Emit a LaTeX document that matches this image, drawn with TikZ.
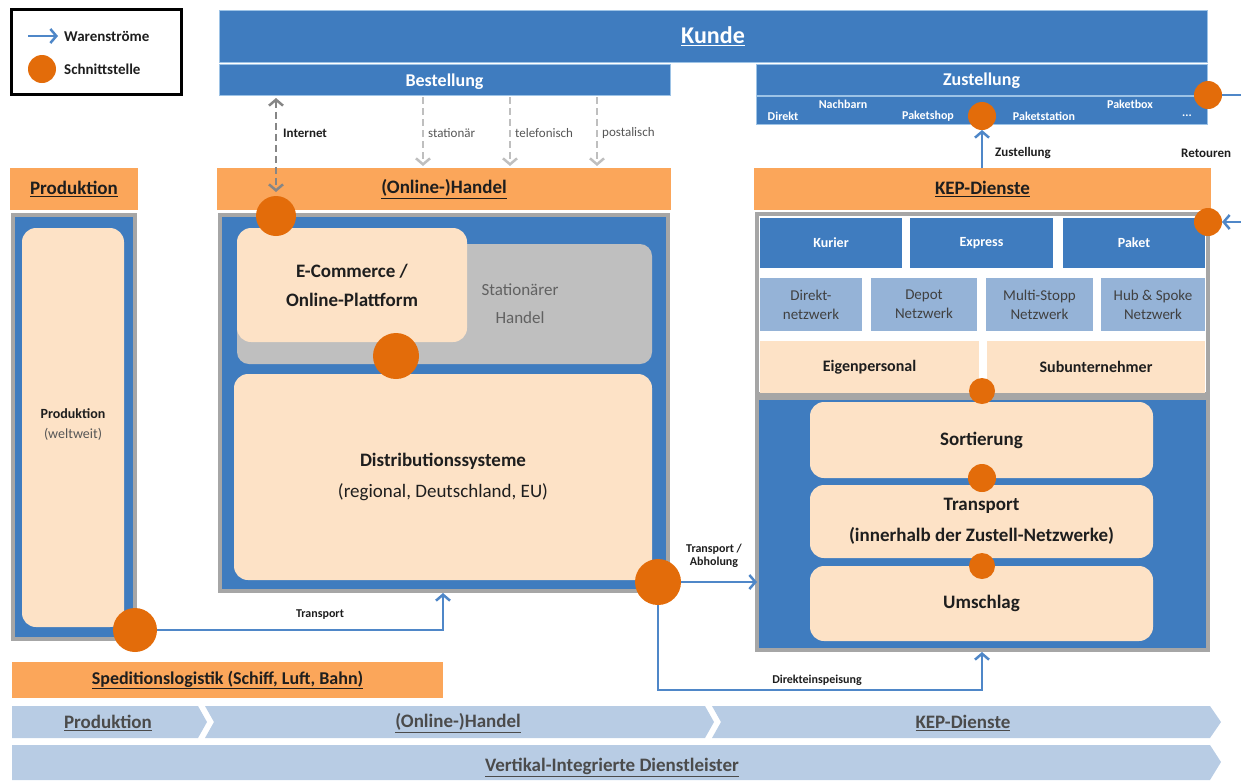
\documentclass[tikz,border=0pt]{standalone}
\usepackage{fontspec}
\setmainfont{Carlito}
\usetikzlibrary{arrows.meta,calc}
\definecolor{kblue}{HTML}{3F7CBF}
\definecolor{kbluelt}{HTML}{9DC3E6}
\definecolor{flowc}{HTML}{4F87C8}
\definecolor{hdr}{HTML}{FBA65A}
\definecolor{peach}{HTML}{FDE2C6}
\definecolor{circc}{HTML}{E36C0A}
\definecolor{grayb}{HTML}{A6A6A6}
\definecolor{grayf}{HTML}{BFBFBF}
\definecolor{cellb}{HTML}{95B3D7}
\definecolor{chev}{HTML}{B8CCE4}
\definecolor{txt}{HTML}{1E1E1E}
\newcommand\fsz[2]{\fontsize{#1}{#2}\selectfont}
\begin{document}
\begin{tikzpicture}[x=1pt,y=-1pt,
  box/.style={rectangle, inner sep=0pt, outer sep=0pt},
  bar/.style={box, fill=kblue, draw=kbluelt, line width=1pt, text=white, font=\bfseries\fsz{18}{22}},
  bartxt/.style={inner sep=0pt, text=white, font=\bfseries\fsz{18}{22}},
  header/.style={box, fill=hdr, text=txt, font=\bfseries\fsz{19}{22}},
  body/.style={box, fill=kblue, draw=grayb, line width=4pt},
  soft/.style={box, fill=peach, rounded corners=14pt, text=txt, align=center},
  cellblue/.style={box, fill=kblue, text=white, font=\bfseries\fsz{14}{17}},
  celllt/.style={box, fill=cellb, text=txt!85, align=center, font=\fsz{15}{19}},
  cellpe/.style={box, fill=peach, text=txt, font=\bfseries\fsz{16}{19}},
  dot/.style={circle, fill=circc, inner sep=0pt, outer sep=0pt},
  flow/.style={draw=flowc, line width=2.5pt, -{Straight Barb[length=6pt,width=14pt,line width=2.5pt]}},
  flowline/.style={draw=flowc, line width=2.5pt},
  ordr/.style={line width=2.5pt, dashed, dash pattern=on 7pt off 4pt},
  lbl/.style={inner sep=1pt, text=txt, font=\bfseries\fsz{12}{14}},
  glbl/.style={inner sep=1pt, text=txt!75, font=\fsz{13}{15}},
  zlbl/.style={inner sep=0pt, text=white, font=\bfseries\fsz{12}{14}},
  chevtxt/.style={inner sep=0pt, text=txt!80, font=\bfseries\fsz{19}{22}}
]
\path[use as bounding box] (0,0) rectangle (1241,780);

% Legend
\node[box, draw=black, line width=3pt, minimum width=170pt, minimum height=85pt] (legend) at (96,51.5) {};
\coordinate (legA) at (28,36);
\coordinate (legB) at (58,36);
\draw[flow] (legA) -- (legB);
\node[lbl, anchor=west, font=\bfseries\fsz{15}{17}] (legT1) at (63,36) {Warenströme};
\node[dot, minimum size=28pt] (legdot) at (42,69) {};
\node[lbl, anchor=west, font=\bfseries\fsz{15}{17}] (legT2) at (63,69) {Schnittstelle};

% Kunde bars
\node[bar, minimum width=988pt, minimum height=52pt, font=\bfseries\fsz{24}{28}] (kunde) at (713,36) {\underline{Kunde}};
\node[bar, minimum width=451pt, minimum height=31pt] (best) at (444.5,80) {};
\node[bartxt] (bestT) at (444.5,82) {Bestellung};
\node[bar, minimum width=451pt, minimum height=31pt] (zust) at (981.5,80) {};
\node[bartxt] (zustT) at (981.5,81) {Zustellung};
\node[bar, minimum width=451pt, minimum height=28pt] (zsub) at (981.5,110) {};
\node[zlbl] (zDirekt) at (783,116) {Direkt};
\node[zlbl] (zNach) at (843,104) {Nachbarn};
\node[zlbl] (zShop) at (928,116) {Paketshop};
\node[zlbl] (zStat) at (1044,116) {Paketstation};
\node[zlbl] (zBox) at (1130,104) {Paketbox};
\node[zlbl] (zDots) at (1187,116) {...};

% Headers
\node[header, minimum width=128pt, minimum height=42pt] (prodH) at (74,189) {\underline{Produktion}};
\node[header, minimum width=454pt, minimum height=42pt] (handelH) at (444,189) {\underline{(Online-)Handel}};
\node[header, minimum width=457pt, minimum height=42pt] (kepH) at (982.5,189) {\underline{KEP-Dienste}};

% Produktion body
\node[body, minimum width=122pt, minimum height=424pt] (prodB) at (74,427) {};
\node[soft, minimum width=102pt, minimum height=399pt] (prodI) at (73,427.5) {};
\node[inner sep=0pt, align=center, text=txt] (prodT) at (73,425) {{\bfseries\fsz{14}{18}Produktion}\\[8pt]{\fsz{14}{18}\color{txt!75}(weltweit)}};

% Handel body
\node[body, minimum width=448pt, minimum height=376pt] (handelB) at (444,403) {};
\node[box, fill=grayf, rounded corners=12pt, minimum width=415pt, minimum height=120pt] (stat) at (444.5,304) {};
\node[inner sep=0pt, align=center, text=txt!70, font=\fsz{17}{28}] (statT) at (520,304) {Stationärer\\Handel};
\node[soft, minimum width=230pt, minimum height=114pt, font=\bfseries\fsz{19}{29}] (ecom) at (352,285) {E-Commerce /\\Online-Plattform};
\node[soft, minimum width=418pt, minimum height=206pt, font=\fsz{19}{31}] (dist) at (443,477) {\textbf{Distributionssysteme}\\(regional, Deutschland, EU)};

% KEP body
\node[box, fill=white, draw=grayb, line width=4pt, minimum width=451pt, minimum height=180pt] (kepTop) at (982.5,304) {};
\node[cellblue, minimum width=142pt, minimum height=50pt] (kurier) at (831,243) {Kurier};
\node[cellblue, minimum width=143pt, minimum height=50pt] (express) at (981.5,243) {Express};
\node[cellblue, minimum width=142pt, minimum height=50pt] (paket) at (1134,243) {Paket};
\node[celllt, minimum width=102pt, minimum height=53pt] (direkt) at (811,304.5) {Direkt-\\netzwerk};
\node[celllt, minimum width=106pt, minimum height=53pt] (depot) at (924,304.5) {Depot\\Netzwerk};
\node[celllt, minimum width=107pt, minimum height=53pt] (multi) at (1039.5,304.5) {Multi-Stopp\\Netzwerk};
\node[celllt, minimum width=104pt, minimum height=53pt] (hub) at (1153,304.5) {Hub \& Spoke\\Netzwerk};
\node[cellpe, minimum width=219pt, minimum height=52pt] (eigen) at (869.5,367) {Eigenpersonal};
\node[cellpe, minimum width=218pt, minimum height=52pt] (subu) at (1096,367) {Subunternehmer};
\node[body, minimum width=451pt, minimum height=252pt] (kepBot) at (982.5,524) {};
\node[soft, minimum width=343pt, minimum height=76pt, font=\bfseries\fsz{19}{24}] (sort) at (981.5,440) {Sortierung};
\node[soft, minimum width=343pt, minimum height=73pt, font=\bfseries\fsz{19}{31}] (trans) at (981.5,521.5) {Transport\\(innerhalb der Zustell-Netzwerke)};
\node[soft, minimum width=343pt, minimum height=75pt, font=\bfseries\fsz{19}{24}] (umschl) at (981.5,603.5) {Umschlag};

% Ordering arrows (dashed)
\coordinate (inetT) at (276,98);
\coordinate (inetB) at (276,192);
\draw[ordr, draw=gray!95, {Straight Barb[length=6pt,width=14pt,line width=2.5pt]}-{Straight Barb[length=6pt,width=14pt,line width=2.5pt]}] (inetT) -- (inetB);
\node[lbl, anchor=west, font=\bfseries\fsz{13}{15}] (inetL) at (282,133) {Internet};
\coordinate (stA) at (423,97);  \coordinate (stB) at (423,166);
\coordinate (teA) at (510,97);  \coordinate (teB) at (510,166);
\coordinate (poA) at (597,97);  \coordinate (poB) at (597,166);
\draw[ordr, draw=grayf, -{Straight Barb[length=6pt,width=14pt,line width=2.5pt]}] (stA) -- (stB);
\draw[ordr, draw=grayf, -{Straight Barb[length=6pt,width=14pt,line width=2.5pt]}] (teA) -- (teB);
\draw[ordr, draw=grayf, -{Straight Barb[length=6pt,width=14pt,line width=2.5pt]}] (poA) -- (poB);
\node[glbl, anchor=west] (stL) at (427,133) {stationär};
\node[glbl, anchor=west] (teL) at (514,133) {telefonisch};
\node[glbl, anchor=west] (poL) at (601,133) {postalisch};

% Schnittstellen
\node[dot, minimum size=40pt] (c1) at (276,216) {};
\node[dot, minimum size=46pt] (c2) at (396,356) {};
\node[dot, minimum size=46pt] (c3) at (658,582) {};
\node[dot, minimum size=44pt] (c4) at (135,630) {};
\node[dot, minimum size=28pt] (c5) at (982,116) {};
\node[dot, minimum size=28pt] (c6) at (1208,95) {};
\node[dot, minimum size=28pt] (c7) at (1208,222) {};
\node[dot, minimum size=26pt] (c8) at (982,391) {};
\node[dot, minimum size=28pt] (c9) at (982,478) {};
\node[dot, minimum size=26pt] (c10) at (982,566) {};

% Flows
\coordinate (tr1) at (443,630);
\draw[flow] (c4.east) -- (tr1) -- ($(handelB.south)+(-1,2)$);
\node[lbl] (trL) at (320,615) {Transport};
\draw[flow] (c3.east) -- (c3.east -| kepBot.west);
\node[lbl, align=center, font=\bfseries\fsz{12}{13}] (abL) at (714,556) {Transport /\\Abholung};
\coordinate (dj) at (658,690);
\draw[flow] (c3.south) -- (dj) -| ($(kepBot.south)+(-0.5,2)$);
\node[lbl] (djL) at (817,680) {Direkteinspeisung};
\draw[flow] (kepH.north -| c5) -- (c5.south);
\node[lbl, anchor=west, font=\bfseries\fsz{13}{15}] (zuL) at (994,153) {Zustellung};
\coordinate (retR) at (1241,95);
\draw[flowline] (c6.east) -- (retR);
\node[lbl, anchor=west, font=\bfseries\fsz{13}{15}] (reL) at (1180,153) {Retouren};
\coordinate (retIn) at (1241,222);
\draw[flow] (retIn) -- (c7.east);

% Bottom bars
\node[header, minimum width=431pt, minimum height=36pt, font=\bfseries\fsz{18}{22}] (spedi) at (227.5,680) {\underline{Speditionslogistik (Schiff, Luft, Bahn)}};
\fill[chev] (12,706) -- (198,706) -- (207,722) -- (198,738) -- (12,738) -- cycle;
\fill[chev] (205,706) -- (705,706) -- (714,722) -- (705,738) -- (205,738) -- (214,722) -- cycle;
\fill[chev] (712,706) -- (1210,706) -- (1221,722) -- (1210,738) -- (712,738) -- (721,722) -- cycle;
\fill[chev] (12,745) -- (1210,745) -- (1221,762) -- (1210,780) -- (12,780) -- cycle;
\node[chevtxt] (chP) at (108,723) {\underline{Produktion}};
\node[chevtxt] (chH) at (458,723) {\underline{(Online-)Handel}};
\node[chevtxt] (chK) at (963,723) {\underline{KEP-Dienste}};
\node[chevtxt] (chV) at (612,767) {\underline{Vertikal-Integrierte Dienstleister}};
\end{tikzpicture}
\end{document}
